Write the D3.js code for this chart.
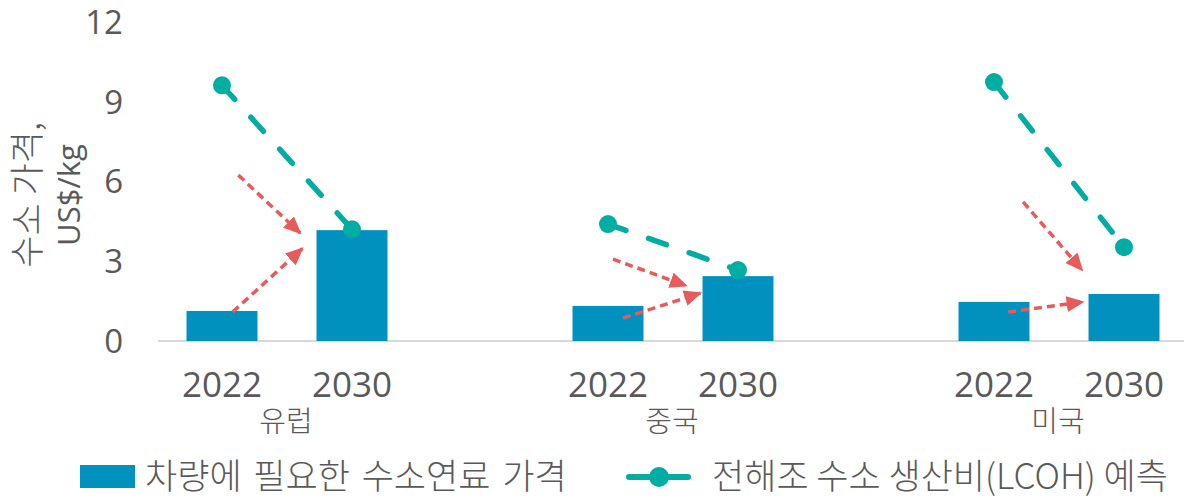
<!DOCTYPE html>
<html>
<head>
<meta charset="utf-8">
<script src="https://cdn.jsdelivr.net/npm/d3@7"></script>
<style>
  body { margin: 0; background: #fff; }
  svg { display: block; }
</style>
</head>
<body>
<div id="chart"></div>
<script>
// data
let regions = ["유럽", "중국", "미국"]
let years = ["2022", "2030"]
let fuelPrice = [[1.13, 4.17], [1.32, 2.44], [1.47, 1.77]]   // 차량에 필요한 수소연료 가격
let lcoh = [[9.62, 4.2], [4.4, 2.67], [9.74, 3.53]]          // 전해조 수소 생산비(LCOH) 예측
let yTicks = [0, 3, 6, 9, 12]
// red guide arrows: [region, from year, from value, to year, to value]
let arrows = [
    ["유럽", "2022", 6.24, "2030", 4.06],
    ["유럽", "2022", 1.09, "2030", 3.48],
    ["중국", "2022", 3.08, "2030", 2.08],
    ["중국", "2022", 0.86, "2030", 1.80],
    ["미국", "2022", 5.23, "2030", 2.67],
    ["미국", "2022", 1.09, "2030", 1.47]
]
// x offsets of arrow ends, relative to bar centre (fraction of bar width)
let arrowFromDx = [0.23, 0.15, 0.07, 0.21, 0.41, 0.2]
let arrowToDx = [-0.73, -0.7, -0.73, -0.53, -0.59, -0.58]

let width = 1184
let height = 498

let svg = d3.select("#chart").append("svg")
    .attr("width", width)
    .attr("height", height)

let numFont = "'Open Sans', 'Liberation Sans', sans-serif"
let korFont = "'Noto Sans CJK KR', 'Noto Sans', sans-serif"
let grey = "#595959"
let barColor = "#0091bf"
let teal = "#00ada3"
let red = "#e85b5b"

// scales
let y = d3.scaleLinear().domain([0, 12]).range([341, 22])
let x0 = d3.scaleBand().domain(regions).range([94, 1252])
let x1 = d3.scaleBand().domain(years).range([63, 323]).paddingInner(0.454).paddingOuter(0.227)
let bw = x1.bandwidth()
let cx = (r, yr) => x0(r) + x1(yr) + bw / 2

// arrow head
let defs = svg.append("defs")
defs.append("marker")
    .attr("id", "head")
    .attr("viewBox", "0 0 10 10")
    .attr("refX", 9).attr("refY", 5)
    .attr("markerUnits", "userSpaceOnUse")
    .attr("markerWidth", 18).attr("markerHeight", 16)
    .attr("preserveAspectRatio", "none")
    .attr("orient", "auto")
    .append("path")
    .attr("d", "M0,0L10,5L0,10Z")
    .attr("fill", red)

// y axis ticks
svg.append("g").selectAll("text")
    .data(yTicks)
    .join("text")
    .attr("x", 123)
    .attr("y", d => y(d))
    .attr("dy", "0.36em")
    .attr("text-anchor", "end")
    .attr("font-family", numFont)
    .attr("font-size", 33)
    .attr("fill", grey)
    .text(d => d)

// y axis title
let yTitle = svg.append("text")
    .attr("transform", "translate(0,195) rotate(-90)")
    .attr("text-anchor", "middle")
    .attr("fill", grey)
yTitle.append("tspan").attr("x", 0).attr("y", 40)
    .attr("font-family", korFont).attr("font-weight", 300).attr("font-size", 35)
    .text("수소 가격,")
yTitle.append("tspan").attr("x", 0).attr("y", 80)
    .attr("font-family", numFont).attr("font-size", 31)
    .text("US$/kg")

// baseline
svg.append("line")
    .attr("x1", 158).attr("x2", width)
    .attr("y1", y(0)).attr("y2", y(0))
    .attr("stroke", "#d9d9d9")
    .attr("stroke-width", 2)

// bars
let barData = []
regions.forEach((r, i) => years.forEach((yr, j) => barData.push({ r, yr, v: fuelPrice[i][j] })))

svg.append("g").selectAll("rect")
    .data(barData)
    .join("rect")
    .attr("x", d => x0(d.r) + x1(d.yr))
    .attr("y", d => y(d.v))
    .attr("width", bw)
    .attr("height", d => y(0) - y(d.v))
    .attr("fill", barColor)

// year labels
svg.append("g").selectAll("text")
    .data(barData)
    .join("text")
    .attr("x", d => cx(d.r, d.yr))
    .attr("y", 397)
    .attr("text-anchor", "middle")
    .attr("font-family", numFont)
    .attr("font-size", 35)
    .attr("fill", grey)
    .text(d => d.yr)

// region labels
svg.append("g").selectAll("text")
    .data(regions)
    .join("text")
    .attr("x", d => x0(d) + x0.bandwidth() / 2 - 1)
    .attr("y", 432)
    .attr("text-anchor", "middle")
    .attr("font-family", korFont)
    .attr("font-weight", 300)
    .attr("font-size", 29)
    .attr("fill", grey)
    .text(d => d)

// red arrows
svg.append("g").selectAll("line")
    .data(arrows)
    .join("line")
    .attr("x1", (d, i) => cx(d[0], d[1]) + arrowFromDx[i] * bw)
    .attr("y1", d => y(d[2]))
    .attr("x2", (d, i) => cx(d[0], d[3]) + arrowToDx[i] * bw)
    .attr("y2", d => y(d[4]))
    .attr("stroke", red)
    .attr("stroke-width", 3.5)
    .attr("stroke-dasharray", "8,5")
    .attr("marker-end", "url(#head)")

// LCOH lines
let line = d3.line().x(d => cx(d.r, d.yr)).y(d => y(d.v))
let lcohData = regions.map((r, i) => years.map((yr, j) => ({ r, yr, v: lcoh[i][j] })))

svg.append("g").selectAll("path")
    .data(lcohData)
    .join("path")
    .attr("d", line)
    .attr("fill", "none")
    .attr("stroke", teal)
    .attr("stroke-width", 5.5)
    .attr("stroke-linecap", "round")
    .attr("stroke-dasharray", "19,24")

svg.append("g").selectAll("circle")
    .data(lcohData.flat())
    .join("circle")
    .attr("cx", d => cx(d.r, d.yr))
    .attr("cy", d => y(d.v))
    .attr("r", 9)
    .attr("fill", teal)

// legend
let legend = svg.append("g")
legend.append("rect")
    .attr("x", 80).attr("y", 465)
    .attr("width", 55).attr("height", 23)
    .attr("fill", barColor)
legend.append("text")
    .attr("x", 145).attr("y", 489)
    .attr("font-family", korFont)
    .attr("font-weight", 300)
    .attr("font-size", 35)
    .attr("word-spacing", 4)
    .attr("fill", grey)
    .text("차량에 필요한 수소연료 가격")

legend.append("line")
    .attr("x1", 629).attr("x2", 688)
    .attr("y1", 477).attr("y2", 477)
    .attr("stroke", teal)
    .attr("stroke-width", 6)
    .attr("stroke-linecap", "round")
legend.append("circle")
    .attr("cx", 659).attr("cy", 477)
    .attr("r", 10)
    .attr("fill", teal)
legend.append("text")
    .attr("x", 712).attr("y", 489)
    .attr("font-family", korFont)
    .attr("font-weight", 300)
    .attr("font-size", 35)
    .attr("fill", grey)
    .text("전해조 수소 생산비(LCOH) 예측")
</script>
</body>
</html>
